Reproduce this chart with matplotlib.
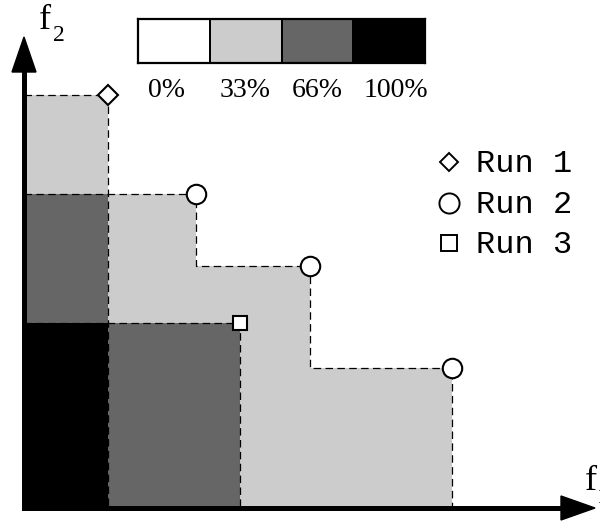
import numpy as np
import matplotlib.pyplot as plt
from matplotlib.colors import ListedColormap, BoundaryNorm
from matplotlib.patches import Polygon

# Non-dominated points reached by each run, (f1, f2)
run1_f1 = [0.84]
run1_f2 = [4.13]
run2_f1 = [1.72, 2.86, 4.28]
run2_f2 = [3.14, 2.42, 1.40]
run3_f1 = [2.16]
run3_f2 = [1.85]

run_labels = ['Run 1', 'Run 2', 'Run 3']
run_markers = ['D', 'o', 's']
run_marker_sizes = [10.0, 14.0, 10.5]

level_labels = ['0%', '33%', '66%', '100%']
level_colors = ['#ffffff', '#cccccc', '#666666', '#000000']

W, H = 600, 525


def at(x, y):
    # pixel position (from top-left) -> axes fraction
    return x / W, 1 - y / H


def staircase(f1, f2):
    order = np.argsort(f1)
    f1 = np.asarray(f1)[order]
    f2 = np.asarray(f2)[order]
    sx = np.concatenate([[0.0], np.repeat(f1, 2)])
    sy = np.concatenate([np.repeat(f2, 2), [0.0]])
    return sx, sy


runs = [(run1_f1, run1_f2), (run2_f1, run2_f2), (run3_f1, run3_f2)]

# count how many runs attain each cell of the grid
xs = np.unique(np.concatenate([[0.0]] + [r[0] for r in runs]))
ys = np.unique(np.concatenate([[0.0]] + [r[1] for r in runs]))
counts = np.zeros((len(ys) - 1, len(xs) - 1))
for f1, f2 in runs:
    f1 = np.asarray(f1)
    f2 = np.asarray(f2)
    for j in range(len(ys) - 1):
        for i in range(len(xs) - 1):
            if np.any((f1 >= xs[i + 1]) & (f2 >= ys[j + 1])):
                counts[j, i] += 1

cmap = ListedColormap(level_colors)
norm = BoundaryNorm(np.arange(len(level_colors) + 1) - 0.5, len(level_colors))

fig = plt.figure(figsize=(6, 5.25), dpi=100)
ax = fig.add_axes([0, 0, 1, 1])
ax.set_xlim(-0.24, 5.76)
ax.set_ylim(-0.17, 5.08)
ax.axis('off')

ax.pcolormesh(xs, ys, counts, cmap=cmap, norm=norm, antialiased=False, zorder=1)

for f1, f2 in runs:
    sx, sy = staircase(f1, f2)
    ax.plot(sx, sy, color='black', lw=0.9, dashes=(6, 3.5), zorder=2)

# axes with arrow heads
ax.plot([0, 0, 5.40], [4.40, 0, 0], color='black', lw=3.6,
        solid_joinstyle='miter', zorder=3)
ax.add_patch(Polygon([(-0.12, 4.36), (0.12, 4.36), (0, 4.71)],
                     closed=True, color='black', zorder=3))
ax.add_patch(Polygon([(5.37, 0.12), (5.37, -0.12), (5.71, 0)],
                     closed=True, color='black', zorder=3))

for (f1, f2), m, ms in zip(runs, run_markers, run_marker_sizes):
    ax.plot(f1, f2, ls='none', marker=m, ms=ms, mfc='white', mec='black',
            mew=1.5, zorder=4, clip_on=False)

serif = 'Liberation Serif'
ax.text(*at(39, 29), 'f', transform=ax.transAxes, fontsize=26,
        family=serif, va='baseline', ha='left')
ax.text(*at(53, 41), '2', transform=ax.transAxes, fontsize=17,
        family=serif, va='baseline', ha='left')
ax.text(*at(585, 490), 'f', transform=ax.transAxes, fontsize=26,
        family=serif, va='baseline', ha='left')
ax.text(*at(597, 503), '1', transform=ax.transAxes, fontsize=17,
        family=serif, va='baseline', ha='left')

# legend
legend_y = [162, 203, 243]
legend_sizes = [9.5, 14.5, 12.0]
for lab, m, ms, y in zip(run_labels, run_markers, legend_sizes, legend_y):
    ax.plot(*at(449, y), marker=m, ms=ms, mfc='white', mec='black', mew=1.4,
            transform=ax.transAxes, clip_on=False)
    ax.text(*at(476, y + 10), lab, transform=ax.transAxes, fontsize=23,
            family='Liberation Mono', va='baseline', ha='left')

# attainment colour key
cax = fig.add_axes([138 / W, 1 - 63 / H, 287 / W, 44 / H])
cax.pcolormesh(np.arange(len(level_colors) + 1), [0, 1],
               [np.arange(len(level_colors))], cmap=cmap, norm=norm,
               edgecolors='black', linewidth=1.2)
cax.set_xlim(0, len(level_colors))
cax.set_ylim(0, 1)
cax.set_xticks([])
cax.set_yticks([])
for s in cax.spines.values():
    s.set_linewidth(1.6)
for i, lab in enumerate(level_labels):
    cax.text(i + 0.14, -0.78, lab, transform=cax.get_xaxis_transform(),
             fontsize=20, family=serif, va='baseline', ha='left')

fig.savefig('out.png', dpi=100)
